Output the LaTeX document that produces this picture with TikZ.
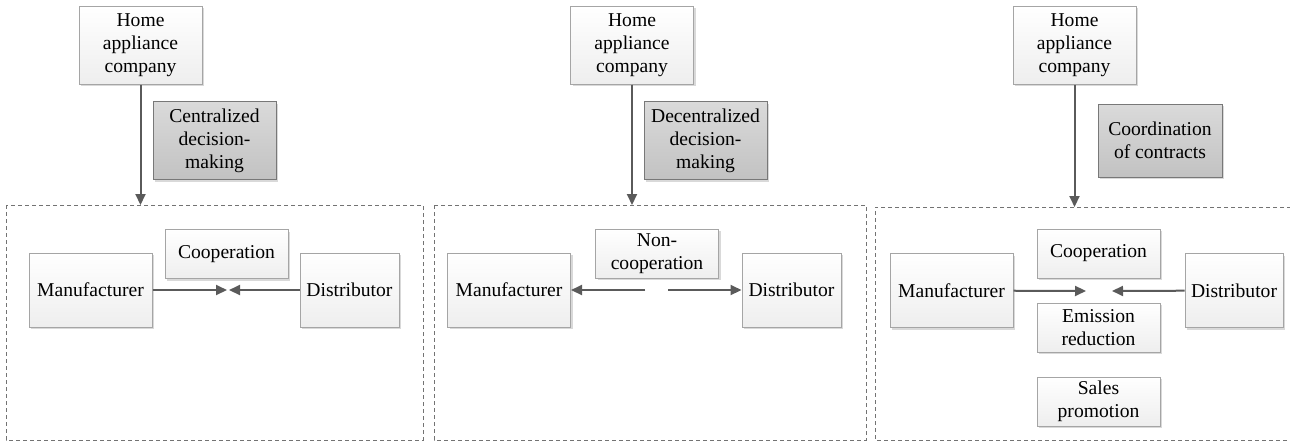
\documentclass[tikz,border=0pt]{standalone}
\usepackage{fontspec}
\setmainfont{Liberation Serif}
\usetikzlibrary{arrows.meta, shadows}
\definecolor{edgegray}{RGB}{165,165,165}
\definecolor{boxbottom}{RGB}{238,238,238}
\definecolor{keytop}{RGB}{218,218,218}
\definecolor{keybottom}{RGB}{194,194,194}
\definecolor{keyedge}{RGB}{120,120,120}
\definecolor{arrowgray}{RGB}{90,90,90}

\begin{document}
\begin{tikzpicture}[
  x=0.5pt, y=-0.5pt,
  box/.style={rectangle, draw=edgegray, line width=0.5pt, top color=white, bottom color=boxbottom,
    drop shadow={shadow xshift=1pt, shadow yshift=-1pt, fill=black!15, opacity=1},
    minimum width=61.5pt, inner sep=0pt, align=center, font=\fontsize{9.8pt}{11.5pt}\selectfont},
  keybox/.style={box, draw=keyedge, top color=keytop, bottom color=keybottom},
  narrow/.style={minimum width=49.5pt},
  tall/.style={minimum height=39pt},
  mid/.style={minimum height=37pt},
  short/.style={minimum height=24.5pt},
  arrow/.style={-{Triangle[length=5.5pt, width=5pt]}, line width=1pt, draw=arrowgray, fill=arrowgray},
  frame/.style={draw=black!55, line width=0.5pt, dash pattern=on 2pt off 1.5pt}
]
\useasboundingbox (0,0) rectangle (1290,441);

% panel 1: centralized decision-making
\node[box, tall] (home1) at (140.5,45) {Home\\appliance\\company};
\node[keybox, tall] (cent) at (214.5,140.5) {Centralized\\decision-\\making};
\draw[frame] (6,205) rectangle (423,440);
\coordinate (top1) at (140.5,205);
\node[box, short] (coop1) at (226.5,254) {Cooperation};
\node[box, mid] (manu1) at (90.5,290) {Manufacturer};
\node[box, mid, narrow] (dist1) at (349.5,290) {Distributor};
\coordinate (meetL1) at (227,290);
\coordinate (meetR1) at (229,290);
\draw[arrow] (home1) -- (top1);
\draw[arrow] (manu1) -- (meetL1);
\draw[arrow] (dist1) -- (meetR1);

% panel 2: decentralized decision-making
\node[box, tall] (home2) at (632,45) {Home\\appliance\\company};
\node[keybox, tall] (decent) at (705.5,140.5) {Decentralized\\decision-\\making};
\draw[frame] (434,205) rectangle (866,440);
\coordinate (top2) at (632,205);
\node[box, short] (noncoop) at (657,253.5) {Non-\\cooperation};
\node[box, mid] (manu2) at (509,290) {Manufacturer};
\node[box, mid, narrow] (dist2) at (791.5,290) {Distributor};
\coordinate (splitL2) at (645,290);
\coordinate (splitR2) at (668,290);
\draw[arrow] (home2) -- (top2);
\draw[arrow] (splitL2) -- (manu2);
\draw[arrow] (splitR2) -- (dist2);

% panel 3: coordination of contracts
\node[box, tall] (home3) at (1074.5,45) {Home\\appliance\\company};
\node[keybox, minimum height=36.5pt, minimum width=62pt] (coord) at (1160,140.5) {Coordination\\of contracts};
\draw[frame] (1291,207) -- (875,207) -- (875,440) -- (1291,440);
\coordinate (top3) at (1074.5,207);
\node[box, short] (coop3) at (1098.5,253.5) {Cooperation};
\node[box, mid] (manu3) at (951.5,290.5) {Manufacturer};
\node[box, mid, minimum width=49pt] (dist3) at (1234,290.5) {Distributor};
\node[box, short] (emis) at (1098.5,327.5) {Emission\\reduction};
\node[box, short] (sales) at (1098.5,401.5) {Sales\\promotion};
\coordinate (meetL3) at (1086,291);
\coordinate (meetR3) at (1112,291);
\draw[arrow] (home3) -- (top3);
\draw[arrow] (manu3) -- (meetL3);
\draw[arrow] (dist3) -- (meetR3);
\end{tikzpicture}
\end{document}
